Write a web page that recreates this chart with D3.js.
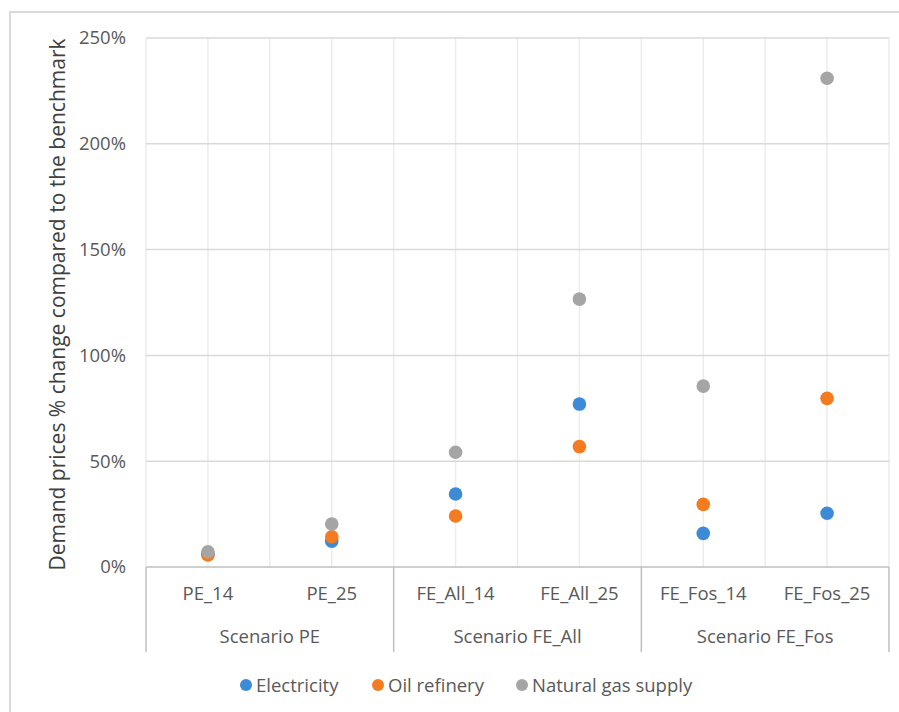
<!DOCTYPE html>
<html>
<head>
<meta charset="utf-8">
<script src="https://cdn.jsdelivr.net/npm/d3@7"></script>
<style>
  html, body { margin: 0; padding: 0; background: #fff; }
  text { font-family: "Open Sans", "Noto Sans", sans-serif; }
</style>
</head>
<body>
<svg id="chart" width="899" height="712"></svg>
<script>
const categories = ["PE_14", "PE_25", "FE_All_14", "FE_All_25", "FE_Fos_14", "FE_Fos_25"];
const groups = ["Scenario PE", "Scenario FE_All", "Scenario FE_Fos"];
const seriesNames = ["Electricity", "Oil refinery", "Natural gas supply"];
const electricity = [0.06, 0.122, 0.345, 0.77, 0.159, 0.254];
const oilRefinery = [0.057, 0.143, 0.241, 0.569, 0.296, 0.797];
const naturalGas = [0.072, 0.203, 0.542, 1.266, 0.855, 2.31];
const yTicks = [0, 0.5, 1, 1.5, 2, 2.5];
const colors = ["#3d8bd6", "#f47b20", "#a5a5a5"];

(function () {
const svg = d3.select("#chart");
const W = 899, H = 712;
const mLeft = 146, mRight = 889, mTop = 38, mBottom = 567;
const fs = "18.5px";

// outer chart border (left/top visible)
svg.append("rect").attr("x", 10).attr("y", 12).attr("width", W).attr("height", H)
  .attr("fill", "none").attr("stroke", "#d9d9d9").attr("stroke-width", 2);

const x = d3.scaleBand().domain(categories).range([mLeft, mRight]).paddingInner(0).paddingOuter(0);
const y = d3.scaleLinear().domain([0, 2.5]).range([mBottom, mTop]);

// vertical gridlines at category centers and boundaries
const vLines = [];
categories.forEach((c) => {
  vLines.push(x(c));
  vLines.push(x(c) + x.bandwidth() / 2);
});
vLines.push(mRight);
svg.append("g").selectAll("line").data(vLines).join("line")
  .attr("x1", d => d).attr("x2", d => d).attr("y1", mTop).attr("y2", mBottom)
  .attr("stroke", "#ececec").attr("stroke-width", 1.5);

// horizontal gridlines
svg.append("g").selectAll("line").data(yTicks.filter(t => t > 0)).join("line")
  .attr("x1", mLeft).attr("x2", mRight).attr("y1", d => y(d)).attr("y2", d => y(d))
  .attr("stroke", "#d9d9d9").attr("stroke-width", 1.5);

// y axis labels
const yAxis = d3.axisLeft(y).tickValues(yTicks).tickFormat(d => Math.round(d * 100) + "%").tickSize(0).tickPadding(20);
const yg = svg.append("g").attr("transform", `translate(${mLeft},0)`).call(yAxis);
yg.select(".domain").remove();
yg.selectAll("text").attr("fill", "#595959").style("font-size", fs)
  .style("font-family", "'Open Sans', sans-serif");

// y axis title
svg.append("text")
  .attr("transform", `translate(65,${(mTop + mBottom) / 2 + 2}) rotate(-90)`)
  .attr("text-anchor", "middle").attr("fill", "#404040")
  .style("font-size", "21px")
  .text("Demand prices % change compared to the benchmark");

// x axis baseline
svg.append("line").attr("x1", mLeft).attr("x2", mRight).attr("y1", mBottom).attr("y2", mBottom)
  .attr("stroke", "#bfbfbf").attr("stroke-width", 1.5);

// group separators
const groupEdges = [0, 2, 4].map(i => x(categories[i])).concat([mRight]);
svg.append("g").selectAll("line").data(groupEdges).join("line")
  .attr("x1", d => d).attr("x2", d => d).attr("y1", mBottom).attr("y2", 652)
  .attr("stroke", "#bfbfbf").attr("stroke-width", 1.5);

// category labels
const xAxis = d3.axisBottom(x).tickSize(0).tickPadding(20);
const xg = svg.append("g").attr("transform", `translate(0,${mBottom})`).call(xAxis);
xg.select(".domain").remove();
xg.selectAll("text").attr("fill", "#595959").style("font-size", fs)
  .style("font-family", "'Open Sans', sans-serif");

// group labels
svg.append("g").selectAll("text").data(groups).join("text")
  .attr("x", (d, i) => (groupEdges[i] + groupEdges[i + 1]) / 2)
  .attr("y", 643).attr("text-anchor", "middle").attr("fill", "#595959")
  .style("font-size", fs).text(d => d);

// points
const series = [electricity, oilRefinery, naturalGas];
series.forEach((vals, si) => {
  svg.append("g").selectAll("circle").data(vals).join("circle")
    .attr("cx", (d, i) => x(categories[i]) + x.bandwidth() / 2)
    .attr("cy", d => y(d))
    .attr("r", 6.8)
    .attr("fill", colors[si]);
});

// legend
const legendX = [246, 378, 522];
const lg = svg.append("g");
seriesNames.forEach((n, i) => {
  lg.append("circle").attr("cx", legendX[i]).attr("cy", 685).attr("r", 6).attr("fill", colors[i]);
  lg.append("text").attr("x", legendX[i] + 10).attr("y", 692).attr("fill", "#595959")
    .style("font-size", fs).text(n);
});
})();
</script>
</body>
</html>
